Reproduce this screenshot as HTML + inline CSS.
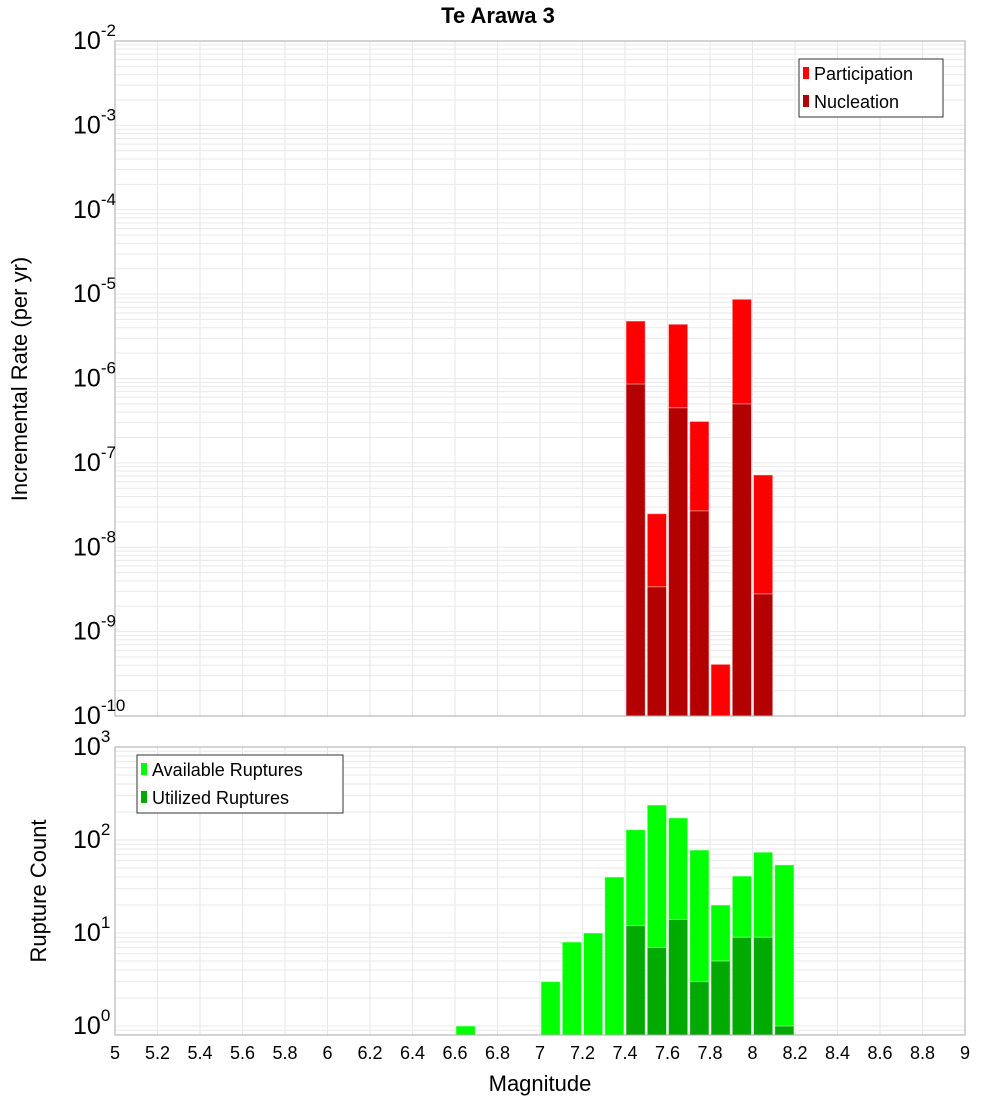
<!DOCTYPE html>
<html><head><meta charset="utf-8"><style>
html,body{margin:0;padding:0;background:#fff;}
svg{display:block;font-family:"Liberation Sans","DejaVu Sans",sans-serif;}
</style></head><body>
<svg id="c" width="1000" height="1100" viewBox="0 0 1000 1100" xmlns="http://www.w3.org/2000/svg">
<text x="498" y="23" text-anchor="middle" font-size="22" font-weight="bold" fill="#000">Te Arawa 3</text>
<g id="grid"></g>
<g id="bars"></g>
<g id="axes"></g>
</svg>
<script>
const bins = [6.6,7.0,7.1,7.2,7.3,7.4,7.5,7.6,7.7,7.8,7.9,8.0,8.1];
const topBins = [7.4,7.5,7.6,7.7,7.8,7.9,8.0];
const participation = [4.8e-6,2.5e-8,4.4e-6,3.1e-7,4.1e-10,8.7e-6,7.2e-8];
const nucleation = [8.6e-7,3.4e-9,4.5e-7,2.7e-8,0,5.0e-7,2.8e-9];
const available = [1,3,8,10,40,129,238,173,78,20,41,74,54];
const utilized = [0,0,0,0,0,12,7,14,3,5,9,9,1];
const xTicks = [5,5.2,5.4,5.6,5.8,6,6.2,6.4,6.6,6.8,7,7.2,7.4,7.6,7.8,8,8.2,8.4,8.6,8.8,9];
const topExps = [-2,-3,-4,-5,-6,-7,-8,-9,-10];
const botExps = [3,2,1,0];

const NS="http://www.w3.org/2000/svg";
const X0=115,X1=965;
const T0=41,T1=716, B0=747,B1=1035;
const xs=m=>X0+(m-5)/4*(X1-X0);
const ty=v=>T0+(-2-Math.log10(v))*(T1-T0)/8;
const by=v=>B0+(3-Math.log10(v))*93;
function mk(tag,attrs,parent,txt){const e=document.createElementNS(NS,tag);for(const k in attrs)e.setAttribute(k,attrs[k]);if(txt!==undefined)e.textContent=txt;parent.appendChild(e);return e;}
const grid=document.getElementById('grid'),bars=document.getElementById('bars'),axes=document.getElementById('axes');

// gridlines
function vgrid(y0,y1){for(let m=5.2;m<9;m+=0.2){const x=xs(m);const l=mk('line',{x1:x,x2:x,y1:y0,y2:y1,stroke:'#e6e6e6','stroke-width':1},grid);

}}
vgrid(T0,T1);vgrid(B0,B1);
for(let e=-10;e<-2;e++){for(let k=1;k<10;k++){const y=ty(k*Math.pow(10,e));if(y<T0||y>T1)continue;const l=mk('line',{x1:X0,x2:X1,y1:y,y2:y,stroke:'#e9e9e9','stroke-width':1},grid);

}}
for(let e=-1;e<3;e++){for(let k=1;k<10;k++){const y=by(k*Math.pow(10,e));if(y<B0||y>B1)continue;const l=mk('line',{x1:X0,x2:X1,y1:y,y2:y,stroke:'#e9e9e9','stroke-width':1},grid);

}}

// bars
function bar(m,v,yf,base,color,name){if(!v)return;const xa=xs(m)+1,xb=xs(m+0.1)-1,y=yf(v);const r=mk('rect',{x:xa,y:y,width:xb-xa,height:base-y,fill:color,stroke:'rgba(255,255,255,0.5)','stroke-width':1},bars);

}
topBins.forEach((m,i)=>{bar(m,participation[i],ty,T1,'#ff0000','participation-bar');bar(m,nucleation[i],ty,T1,'#b30000','nucleation-bar');});
bins.forEach((m,i)=>{bar(m,available[i],by,B1,'#00ff00','available-ruptures-bar');bar(m,utilized[i],by,B1,'#00aa00','utilized-ruptures-bar');});

// frames
[[T0,T1,'top-plot-frame'],[B0,B1,'bottom-plot-frame']].forEach(([a,b,n])=>{const r=mk('rect',{x:X0,y:a,width:X1-X0,height:b-a,fill:'none',stroke:'#aaa','stroke-width':1},axes);

});

// tick labels
xTicks.forEach(m=>{const t=mk('text',{x:xs(m),y:1059,'text-anchor':'middle','font-size':18,fill:'#000'},axes,String(m));

});
function ylab(y,e,parent){const t=mk('text',{x:73,y:y+8,'font-size':25,fill:'#000'},parent);
mk('tspan',{},t,'10');mk('tspan',{dy:-13,'font-size':17},t,String(e));}
topExps.forEach(e=>ylab(ty(Math.pow(10,e)),e,axes));
botExps.forEach(e=>ylab(by(Math.pow(10,e)),e,axes));

// axis titles
const a1=mk('text',{x:0,y:0,transform:'translate(27,379) rotate(-90)','text-anchor':'middle','font-size':22,fill:'#000'},axes,'Incremental Rate (per yr)');


const a2=mk('text',{x:0,y:0,transform:'translate(46,891) rotate(-90)','text-anchor':'middle','font-size':22,fill:'#000'},axes,'Rupture Count');


const a3=mk('text',{x:540,y:1091,'text-anchor':'middle','font-size':22,fill:'#000'},axes,'Magnitude');



// legends
function legend(x,y,w,items,name){const g=mk('g',{},axes);
mk('rect',{x:x,y:y,width:w,height:58,fill:'#fff',stroke:'#333','stroke-width':1},g);
items.forEach(([label,col],i)=>{const yy=y+14+i*28;const e=mk('g',{},g);
mk('rect',{x:x+4,y:yy-6,width:6,height:12,fill:col},e);
mk('text',{x:x+15,y:yy+7,'font-size':18,fill:'#000'},e,label);});}
legend(799,59,144,[['Participation','#ff0000'],['Nucleation','#b30000']],'top-legend');
legend(137,755,206,[['Available Ruptures','#00ff00'],['Utilized Ruptures','#00aa00']],'bottom-legend');
</script>
</body></html>
